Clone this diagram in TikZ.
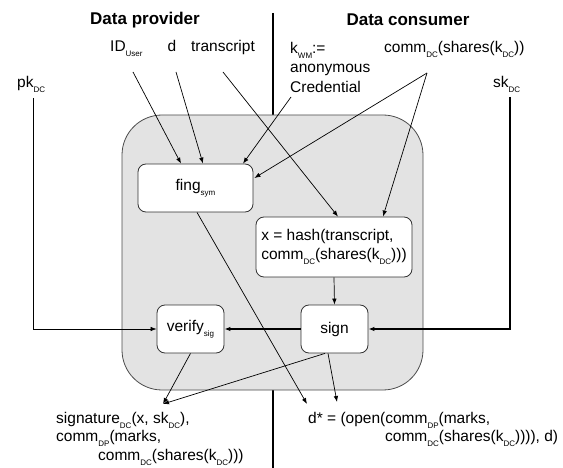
\documentclass[tikz,border=0pt]{standalone}
\usepackage{fontspec}
\setmainfont{Liberation Sans}
\usetikzlibrary{arrows.meta,calc}
\newcommand\sbs[1]{\raisebox{-5pt}{\fontsize{8}{8}\selectfont #1}}
\begin{document}
\begin{tikzpicture}[x=1pt,y=-1pt,
  txt/.style={font=\fontsize{15.5}{19.5}\selectfont, inner sep=0pt},
  ttl/.style={font=\fontsize{17}{20}\selectfont\bfseries, inner sep=0pt},
  inbox/.style={draw=black!80, fill=white, rounded corners=8pt, line width=0.8pt,
    font=\fontsize{15.5}{19.5}\selectfont, inner sep=0pt},
  arr/.style={-{Latex[length=6pt,width=4.5pt]}, line width=0.7pt},
  thk/.style={-{Latex[length=6pt,width=4.5pt]}, line width=2pt},
  divider/.style={line width=2.5pt},
]
\useasboundingbox (0,0) rectangle (563,468);

% divider between parties
\coordinate (divT) at (273,13);
\coordinate (divB) at (273,468);
\draw[divider] (divT) -- (divB);

% main container
\node[draw=black!70, fill=black!11, rounded corners=40pt, line width=0.8pt,
  minimum width=301pt, minimum height=275pt] (main) at (272.5,252.5) {};

% titles
\node[ttl] (dp) at (145,20) {Data provider};
\node[ttl] (dc) at (408,20) {Data consumer};

% inputs
\node[txt, anchor=base west] (id) at (110,52) {ID\sbs{User}};
\node[txt, anchor=base] (d) at (172,52) {d};
\node[txt, anchor=base] (tr) at (223,52) {transcript};
\node[txt, anchor=north west, align=left] (kwm) at (290,42) {k\sbs{WM}:=\\anonymous\\Credential};
\node[txt, anchor=base west] (cm) at (384,53) {comm\sbs{DC}(shares(k\sbs{DC}))};
\node[txt, anchor=base west] (pk) at (17,88) {pk\sbs{DC}};
\node[txt, anchor=base west] (sk) at (493,88) {sk\sbs{DC}};

% processing boxes
\node[inbox, minimum width=115pt, minimum height=48pt] (fing) at (195.5,188) {fing\sbs{sym}};
\node[inbox, minimum width=156pt, minimum height=60pt, align=left] (hash) at (334,247)
  {x = hash(transcript,\\comm\sbs{DC}(shares(k\sbs{DC})))};
\node[inbox, minimum width=67pt, minimum height=48pt] (verify) at (190.5,329) {verify\sbs{sig}};
\node[inbox, minimum width=67pt, minimum height=48pt] (sign) at (334.5,329) {sign};

% outputs
\node[txt, anchor=north west, align=left, font=\fontsize{15.5}{18.5}\selectfont] (sig) at (56,412)
  {signature\sbs{DC}(x, sk\sbs{DC}),\\comm\sbs{DP}(marks,\\\hspace*{42pt}comm\sbs{DC}(shares(k\sbs{DC})))};
\node[txt, anchor=north west, align=left, font=\fontsize{15.5}{18.5}\selectfont] (dst) at (308,412)
  {d* = (open(comm\sbs{DP}(marks,\\\hspace*{77pt}comm\sbs{DC}(shares(k\sbs{DC})))), d)};

% connector end points
\coordinate (idS) at (133,72);
\coordinate (dS) at (176,72);
\coordinate (trS) at (223,72);
\coordinate (kS) at (291,97);
\coordinate (cmS) at (427,73);
\coordinate (pkS) at (33,98);
\coordinate (skS) at (510,97);
\coordinate (sigT) at (163,404);
\coordinate (dstT1) at (307,404);
\coordinate (dstT2) at (337,402);

% connectors
\draw[arr] (idS) -- ($(fing.north)+(-14.5,0)$);
\draw[arr] (dS) -- ($(fing.north)+(7.5,0)$);
\draw[arr] (kS) -- ($(fing.north)+(47.5,0)$);
\draw[arr] (trS) -- ($(hash.north)+(4,0)$);
\draw[arr] (cmS) -- ($(fing.east)+(1,-10)$);
\draw[arr] (cmS) -- ($(hash.north)+(49,0)$);
\draw[arr] (hash.south) -- (sign.north);
\draw[arr] (pkS) |- (verify.west);
\draw[thk] (skS) |- (sign.east);
\draw[thk] (sign.west) -- (verify.east);
\draw[arr] ($(fing.south)+(1.5,0)$) -- (dstT1);
\draw[arr] ($(sign.south)+(-6.5,0)$) -- (dstT2);
\draw[arr] ($(sign.south)+(-9.5,0)$) -- (sigT);
\draw[arr] (verify.south) -- (sigT);
\end{tikzpicture}
\end{document}
